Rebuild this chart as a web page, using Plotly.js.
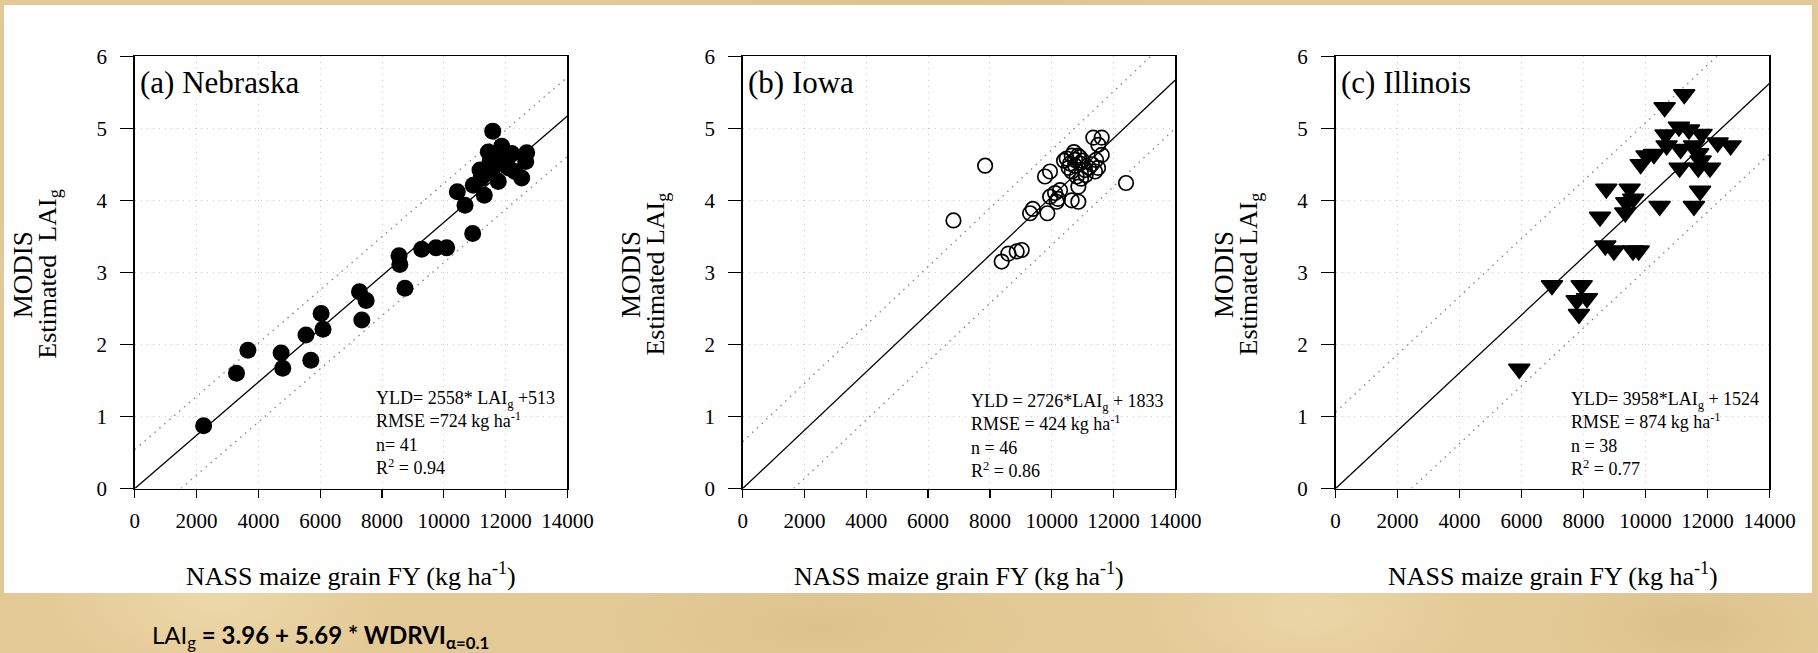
<!DOCTYPE html>
<html>
<head>
<meta charset="utf-8">
<script src="https://cdn.plot.ly/plotly-3.0.1.min.js"></script>
<style>
  html, body { margin:0; padding:0; }
  body {
    width:1818px; height:653px; overflow:hidden;
    background-color:#e3c995;
    background-image:
      radial-gradient(ellipse 260px 120px at 12% 92%, rgba(245,228,188,0.55), rgba(245,228,188,0) 70%),
      radial-gradient(ellipse 300px 100px at 45% 96%, rgba(214,186,130,0.45), rgba(214,186,130,0) 70%),
      radial-gradient(ellipse 260px 120px at 72% 94%, rgba(244,226,186,0.5), rgba(244,226,186,0) 70%),
      radial-gradient(ellipse 200px 90px at 93% 96%, rgba(210,182,125,0.45), rgba(210,182,125,0) 70%),
      radial-gradient(ellipse 500px 30px at 50% 0%, rgba(215,188,130,0.5), rgba(215,188,130,0) 70%);
  }
  #chart { width:1818px; height:653px; }
</style>
</head>
<body>
<div id="chart"></div>
<script>
// ---------------- data ----------------
const panelLabels = ["(a) Nebraska", "(b) Iowa", "(c) Illinois"];

const nebraskaX = [2227,3291,3661,4735,4787,5541,5696,6029,6091,7270,7487,7347,8551,8577,8742,9285,9748,10094,10935,10437,10686,10954,11171,11310,11440,11583,11873,11763,11763,12197,12304,12521,12683,12651,11300,11600,11900,12000,11500,11200,12100];
const nebraskaY = [0.87,1.60,1.92,1.88,1.67,2.13,1.78,2.43,2.21,2.73,2.61,2.34,3.23,3.11,2.78,3.32,3.34,3.34,3.54,4.12,3.93,4.21,4.42,4.07,4.67,4.96,4.75,4.26,4.58,4.65,4.40,4.31,4.66,4.54,4.35,4.45,4.55,4.62,4.55,4.30,4.45];

const iowaX = [6820,7845,8381,8596,8867,9029,9300,9390,9860,9950,10110,10160,10270,10200,10647,10862,9783,9945,10862,10809,10950,11078,11100,10485,10592,10754,10916,10650,10720,10850,10760,10900,11000,10550,10650,11300,11401,11434,11508,11618,11347,11618,12405,11500,10400,11200];
const iowaY = [3.72,4.48,3.15,3.26,3.29,3.31,3.82,3.88,3.82,4.05,4.10,3.98,4.14,4.02,4.00,3.98,4.33,4.40,4.19,4.33,4.30,4.42,4.35,4.58,4.51,4.56,4.51,4.62,4.67,4.62,4.48,4.60,4.55,4.45,4.40,4.50,4.40,4.56,4.77,4.63,4.87,4.87,4.24,4.45,4.55,4.45];

const illinoisX = [11252,10619,11081,11404,11813,10651,12329,12748,10683,11135,11565,10038,10274,9845,11103,11704,12081,11781,8736,9490,9607,9381,10458,11762,11565,8532,9348,8703,8984,9597,9780,6983,7941,7780,8112,7854,5928,11700];
const illinoisY = [5.47,5.29,5.02,4.98,4.92,4.91,4.80,4.76,4.76,4.71,4.76,4.62,4.64,4.50,4.45,4.45,4.45,4.55,4.16,4.16,4.02,3.97,3.92,4.13,3.92,3.77,3.83,3.37,3.30,3.30,3.30,2.82,2.82,2.61,2.64,2.42,1.66,4.65];

// regression (solid) and +/- band (dotted) line end points
const fitX = [0, 14000];
const fitY = [[0, 5.17], [0, 5.67], [0, 5.62]];
const upperX = [0, 14000];
const upperY = [[0.54, 5.71], [0.65, 6.32], [1.06, 6.68]];
const lowerX = [[1495, 14000], [1650, 14000], [2450, 14000]];
const lowerY = [0, 4.61];
const lowerYEnd = [4.61, 5.00, 4.64];

const statsText = [
  "YLD= 2558* LAI<sub>g</sub> +513<br>RMSE =724 kg ha<sup>-1</sup><br>n= 41<br>R<sup>2</sup> = 0.94",
  "YLD = 2726*LAI<sub>g</sub> + 1833<br>RMSE = 424 kg ha<sup>-1</sup><br>n = 46<br>R<sup>2</sup> = 0.86",
  "YLD= 3958*LAI<sub>g</sub> + 1524<br>RMSE = 874 kg ha<sup>-1</sup><br>n = 38<br>R<sup>2</sup> = 0.77"
];
const xTitle = "NASS maize grain FY (kg ha<sup>-1</sup>)";
const yTitle1 = "MODIS";
const yTitle2 = ["Estimated  LAI<sub>g</sub>", "Estimated LAI<sub>g</sub>", "Estimated LAI<sub>g</sub>"];
const formulaText = "LAI<sub>g</sub><b> = 3.96 + 5.69 * WDRVI<sub>α=0.1</sub></b>";

// ---------------- layout geometry ----------------
const W = 1818, H = 653;
const px = x => x / W;
const py = y => 1 - y / H;
const plotL = [134.8, 742.7, 1335.6];
const plotR = [567.4, 1175.3, 1769.4];
const plotT = 56.2, plotB = 488.5;
const SERIF = "Liberation Serif";

const traces = [];
const sets = [[nebraskaX, nebraskaY], [iowaX, iowaY], [illinoisX, illinoisY]];
const markerStyles = [
  {symbol: "circle", size: 17, color: "#000", line: {width: 0}},
  {symbol: "circle-open", size: 14.5, color: "#000", line: {width: 1.7, color: "#000"}},
  {symbol: "triangle-down", size: 18.5, color: "#000", line: {width: 1.5, color: "#000"}}
];
for (let i = 0; i < 3; i++) {
  const ax = i === 0 ? "" : String(i + 1);
  const xa = "x" + ax, ya = "y" + ax;
  traces.push({x: fitX, y: fitY[i], xaxis: xa, yaxis: ya, mode: "lines",
    line: {color: "#000", width: 1.3}, hoverinfo: "skip", showlegend: false});
  traces.push({x: upperX, y: upperY[i], xaxis: xa, yaxis: ya, mode: "lines",
    line: {color: "#8a8a8a", width: 1.4, dash: "1.5px,5px"}, hoverinfo: "skip", showlegend: false});
  traces.push({x: lowerX[i], y: [lowerY[0], lowerYEnd[i]], xaxis: xa, yaxis: ya, mode: "lines",
    line: {color: "#8a8a8a", width: 1.4, dash: "1.5px,5px"}, hoverinfo: "skip", showlegend: false});
  traces.push({x: sets[i][0], y: sets[i][1], xaxis: xa, yaxis: ya, mode: "markers",
    marker: markerStyles[i], showlegend: false, cliponaxis: false});
}

const layout = {
  width: W, height: H,
  margin: {l: 0, r: 0, t: 0, b: 0},
  paper_bgcolor: "rgba(0,0,0,0)",
  plot_bgcolor: "#ffffff",
  showlegend: false,
  font: {family: SERIF, color: "#000"},
  shapes: [{type: "rect", xref: "paper", yref: "paper", layer: "below",
    x0: px(4), x1: px(1812), y0: py(593), y1: py(5), fillcolor: "#ffffff", line: {width: 0}}],
  annotations: []
};

for (let i = 0; i < 3; i++) {
  const ax = i === 0 ? "" : String(i + 1);
  const common = {
    showline: true, linecolor: "#000", linewidth: 1.6, mirror: true,
    ticks: "outside", tickcolor: "#000", tickwidth: 1.3,
    showgrid: true, gridcolor: "#c8c8c8", gridwidth: 1, griddash: "1px,5px",
    zeroline: false, fixedrange: true,
    tickfont: {family: SERIF, size: 21, color: "#000"}
  };
  layout["xaxis" + ax] = Object.assign({}, common, {
    domain: [px(plotL[i]), px(plotR[i])], anchor: "y" + ax,
    range: [0, 14000], tick0: 0, dtick: 2000, tickformat: "d", ticklen: 8, ticklabelstandoff: 5
  });
  layout["yaxis" + ax] = Object.assign({}, common, {
    domain: [py(plotB), py(plotT)], anchor: "x" + ax,
    range: [0, 6], tick0: 0, dtick: 1, tickformat: "d", ticklen: 13, ticklabelstandoff: 9
  });

  const A = layout.annotations;
  A.push({xref: "paper", yref: "paper", x: px(plotL[i] + 3), y: py(83), xanchor: "left", yanchor: "middle",
    text: panelLabels[i], showarrow: false, font: {family: SERIF, size: 31, color: "#000"}});
  const sx = [376.4, 970.5, 1570.5][i];
  const sy = [433, 436, 434][i];
  A.push({xref: "paper", yref: "paper", x: px(sx - 2), y: py(sy), xanchor: "left", yanchor: "middle",
    align: "left", text: statsText[i], showarrow: false, font: {family: SERIF, size: 18, color: "#000"}});
  const cx = (plotL[i] + plotR[i]) / 2;
  A.push({xref: "paper", yref: "paper", x: px(cx), y: py(574), xanchor: "center", yanchor: "middle",
    text: xTitle, showarrow: false, font: {family: SERIF, size: 26, color: "#000"}});
  const cy = (plotT + plotB) / 2 + 2;
  A.push({xref: "paper", yref: "paper", x: px(plotL[i] - 111), y: py(cy), xanchor: "center", yanchor: "middle",
    textangle: -90, text: yTitle1, showarrow: false, font: {family: SERIF, size: 27, color: "#000"}});
  A.push({xref: "paper", yref: "paper", x: px(plotL[i] - 85.5), y: py(cy), xanchor: "center", yanchor: "middle",
    textangle: -90, text: yTitle2[i], showarrow: false, font: {family: SERIF, size: 26, color: "#000"}});
}
layout.annotations.push({xref: "paper", yref: "paper", x: px(150), y: py(636), xanchor: "left", yanchor: "middle",
  text: formulaText, showarrow: false, font: {family: "Lato, Open Sans, sans-serif", size: 24, color: "#000"}});

Plotly.newPlot("chart", traces, layout, {displayModeBar: false, staticPlot: true});
</script>
</body>
</html>
